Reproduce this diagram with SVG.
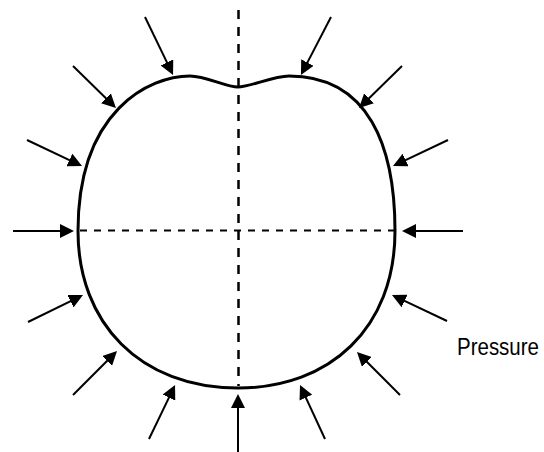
<svg xmlns="http://www.w3.org/2000/svg" width="544" height="452" viewBox="0 0 544 452">
<style>
.arrow{stroke:#000;stroke-width:2;fill:none;marker-end:url(#head)}
.dash{stroke:#000;fill:none}
.shape{stroke:#000;stroke-width:3;fill:none}
.label{font-family:"Liberation Sans",Arial,sans-serif;font-size:20.5px;fill:#000}
</style>
<defs>
<marker id="head" markerUnits="userSpaceOnUse" markerWidth="14" markerHeight="14" refX="10" refY="7" orient="auto">
<path d="M0,0 L14,7 L0,14 Z" fill="#000"/>
</marker>
</defs>
<rect width="544" height="452" fill="#fff"/>
<g id="body">
<path class="shape" d="M 238,87 C 226,87 206,76 190,76 C 150,76 78,110 78,231 C 78,323 140,388 238,388 C 330,388 395,328 395,231 C 395,147 369,76 289,76 C 273,76 250,87 238,87 Z"/>
</g>
<g id="axes">
<line class="dash" x1="238.5" y1="10" x2="238.5" y2="386" stroke-width="2.5" stroke-dasharray="9 8"/>
<line class="dash" x1="80" y1="230.5" x2="395" y2="230.5" stroke-width="2" stroke-dasharray="7 7"/>
</g>
<g id="connectors">
<line class="arrow" x1="145" y1="17" x2="171.3" y2="71.4"/>
<line class="arrow" x1="331" y1="17" x2="302.8" y2="71.4"/>
<line class="arrow" x1="73" y1="66" x2="113.1" y2="105.2"/>
<line class="arrow" x1="402" y1="66" x2="361.9" y2="105.2"/>
<line class="arrow" x1="27" y1="140" x2="78.4" y2="164.3"/>
<line class="arrow" x1="448" y1="140" x2="396.6" y2="164.3"/>
<line class="arrow" x1="13" y1="231" x2="70" y2="231"/>
<line class="arrow" x1="463" y1="231" x2="406" y2="231"/>
<line class="arrow" x1="28" y1="322" x2="79.4" y2="296.8"/>
<line class="arrow" x1="447" y1="321" x2="395.6" y2="296.7"/>
<line class="arrow" x1="73" y1="395" x2="114.2" y2="353.8"/>
<line class="arrow" x1="400" y1="395" x2="359.8" y2="354.8"/>
<line class="arrow" x1="149" y1="439" x2="173.3" y2="388.6"/>
<line class="arrow" x1="238" y1="452" x2="238" y2="398"/>
<line class="arrow" x1="325" y1="439" x2="301.7" y2="388.6"/>
</g>
<g id="label">
<text class="label" transform="translate(457,355) scale(1,1.2)">Pressure</text>
</g>
</svg>
